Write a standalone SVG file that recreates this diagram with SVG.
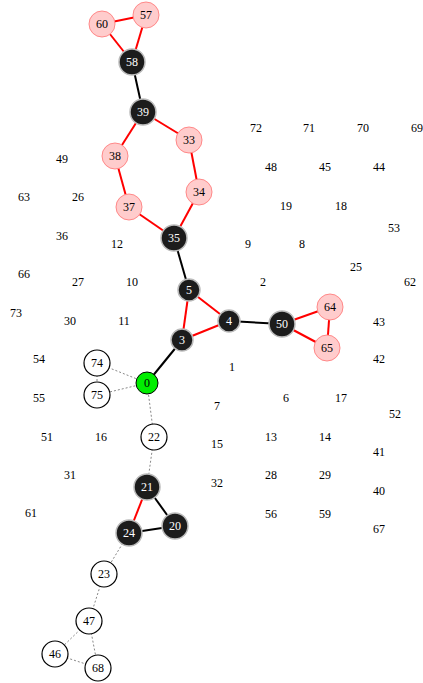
<svg xmlns="http://www.w3.org/2000/svg" width="423" height="683" viewBox="0 0 423 683">
<style>
text{font-family:"Liberation Serif","DejaVu Serif",serif;font-size:12px;text-anchor:middle;dominant-baseline:central;fill:#000}
.blk circle{fill:#1c1c1c;stroke:#bbbbbb;stroke-width:1.5}
.blk text{fill:#fff}
.pnk circle{fill:#ffcccc;stroke:#ff8888;stroke-width:1}
.wht circle{fill:#fff;stroke:#000;stroke-width:1.2}
.grn circle{fill:#00ee00;stroke:#000;stroke-width:1}
.r{stroke:#ff0000;stroke-width:2;fill:none}
.k{stroke:#000;stroke-width:2;fill:none}
.d{stroke:#888;stroke-width:1;stroke-dasharray:2,2;fill:none}
</style>
<g id="edges">
<line class="r" x1="102" y1="24" x2="146" y2="15"/>
<line class="r" x1="102" y1="24" x2="132" y2="62"/>
<line class="r" x1="146" y1="15" x2="132" y2="62"/>
<line class="k" x1="132" y1="62" x2="143" y2="112"/>
<line class="r" x1="143" y1="112" x2="189" y2="140"/>
<line class="r" x1="143" y1="112" x2="115" y2="156"/>
<line class="r" x1="115" y1="156" x2="129" y2="207"/>
<line class="r" x1="189" y1="140" x2="199" y2="192"/>
<line class="r" x1="199" y1="192" x2="174" y2="238"/>
<line class="r" x1="129" y1="207" x2="174" y2="238"/>
<line class="k" x1="174" y1="238" x2="189" y2="290"/>
<line class="r" x1="189" y1="290" x2="229" y2="321"/>
<line class="r" x1="189" y1="290" x2="182" y2="340"/>
<line class="r" x1="182" y1="340" x2="229" y2="321"/>
<line class="k" x1="229" y1="321" x2="282" y2="324"/>
<line class="r" x1="282" y1="324" x2="330" y2="307"/>
<line class="r" x1="282" y1="324" x2="327" y2="348"/>
<line class="r" x1="330" y1="307" x2="327" y2="348"/>
<line class="k" x1="182" y1="340" x2="147" y2="383"/>
<line class="d" x1="147" y1="383" x2="97" y2="363"/>
<line class="d" x1="147" y1="383" x2="97" y2="395"/>
<line class="d" x1="97" y1="363" x2="97" y2="395"/>
<line class="d" x1="147" y1="383" x2="154" y2="437"/>
<line class="d" x1="154" y1="437" x2="147" y2="487"/>
<line class="k" x1="147" y1="487" x2="175" y2="526"/>
<line class="r" x1="147" y1="487" x2="129" y2="533"/>
<line class="k" x1="129" y1="533" x2="175" y2="526"/>
<line class="d" x1="129" y1="533" x2="104" y2="574"/>
<line class="d" x1="104" y1="574" x2="89" y2="621"/>
<line class="d" x1="89" y1="621" x2="55" y2="654"/>
<line class="d" x1="89" y1="621" x2="98" y2="668"/>
<line class="d" x1="55" y1="654" x2="98" y2="668"/>
</g>
<g id="n60" class="pnk"><circle cx="102" cy="24" r="13"/><text x="102" y="24">60</text></g>
<g id="n57" class="pnk"><circle cx="146" cy="15" r="13"/><text x="146" y="15">57</text></g>
<g id="n58" class="blk"><circle cx="132" cy="62" r="13"/><text x="132" y="62">58</text></g>
<g id="n39" class="blk"><circle cx="143" cy="112" r="13"/><text x="143" y="112">39</text></g>
<g id="n33" class="pnk"><circle cx="189" cy="140" r="13"/><text x="189" y="140">33</text></g>
<g id="n38" class="pnk"><circle cx="115" cy="156" r="13"/><text x="115" y="156">38</text></g>
<g id="n34" class="pnk"><circle cx="199" cy="192" r="13"/><text x="199" y="192">34</text></g>
<g id="n37" class="pnk"><circle cx="129" cy="207" r="13"/><text x="129" y="207">37</text></g>
<g id="n35" class="blk"><circle cx="174" cy="238" r="13"/><text x="174" y="238">35</text></g>
<g id="n5" class="blk"><circle cx="189" cy="290" r="11"/><text x="189" y="290">5</text></g>
<g id="n4" class="blk"><circle cx="229" cy="321" r="11"/><text x="229" y="321">4</text></g>
<g id="n3" class="blk"><circle cx="182" cy="340" r="11"/><text x="182" y="340">3</text></g>
<g id="n50" class="blk"><circle cx="282" cy="324" r="13"/><text x="282" y="324">50</text></g>
<g id="n64" class="pnk"><circle cx="330" cy="307" r="13"/><text x="330" y="307">64</text></g>
<g id="n65" class="pnk"><circle cx="327" cy="348" r="13"/><text x="327" y="348">65</text></g>
<g id="n0" class="grn"><circle cx="147" cy="383" r="11"/><text x="147" y="383">0</text></g>
<g id="n74" class="wht"><circle cx="97" cy="363" r="13"/><text x="97" y="363">74</text></g>
<g id="n75" class="wht"><circle cx="97" cy="395" r="13"/><text x="97" y="395">75</text></g>
<g id="n22" class="wht"><circle cx="154" cy="437" r="13"/><text x="154" y="437">22</text></g>
<g id="n21" class="blk"><circle cx="147" cy="487" r="13"/><text x="147" y="487">21</text></g>
<g id="n20" class="blk"><circle cx="175" cy="526" r="13"/><text x="175" y="526">20</text></g>
<g id="n24" class="blk"><circle cx="129" cy="533" r="13"/><text x="129" y="533">24</text></g>
<g id="n23" class="wht"><circle cx="104" cy="574" r="13"/><text x="104" y="574">23</text></g>
<g id="n47" class="wht"><circle cx="89" cy="621" r="13"/><text x="89" y="621">47</text></g>
<g id="n46" class="wht"><circle cx="55" cy="654" r="13"/><text x="55" y="654">46</text></g>
<g id="n68" class="wht"><circle cx="98" cy="668" r="13"/><text x="98" y="668">68</text></g>
<g id="labels">
<text x="256" y="128">72</text><text x="309" y="128">71</text><text x="363" y="128">70</text><text x="417" y="128">69</text>
<text x="271" y="167">48</text><text x="325" y="167">45</text><text x="379" y="167">44</text>
<text x="286" y="206">19</text><text x="341" y="206">18</text><text x="394" y="228">53</text>
<text x="248" y="244">9</text><text x="302" y="244">8</text><text x="356" y="267">25</text>
<text x="263" y="282">2</text><text x="410" y="282">62</text>
<text x="379" y="322">43</text><text x="379" y="359">42</text>
<text x="232" y="367">1</text><text x="286" y="398">6</text><text x="341" y="398">17</text>
<text x="217" y="406">7</text><text x="395" y="414">52</text>
<text x="217" y="444">15</text><text x="271" y="437">13</text><text x="325" y="437">14</text><text x="379" y="452">41</text>
<text x="271" y="475">28</text><text x="325" y="475">29</text><text x="217" y="483">32</text><text x="379" y="491">40</text>
<text x="271" y="514">56</text><text x="325" y="514">59</text><text x="379" y="529">67</text>
<text x="62" y="159">49</text><text x="24" y="197">63</text><text x="78" y="197">26</text>
<text x="62" y="236">36</text><text x="117" y="244">12</text>
<text x="24" y="274">66</text><text x="78" y="282">27</text><text x="132" y="282">10</text>
<text x="16" y="313">73</text><text x="70" y="321">30</text><text x="124" y="321">11</text>
<text x="39" y="359">54</text><text x="39" y="398">55</text>
<text x="47" y="437">51</text><text x="101" y="437">16</text>
<text x="70" y="475">31</text><text x="31" y="513">61</text>
</g>
</svg>
